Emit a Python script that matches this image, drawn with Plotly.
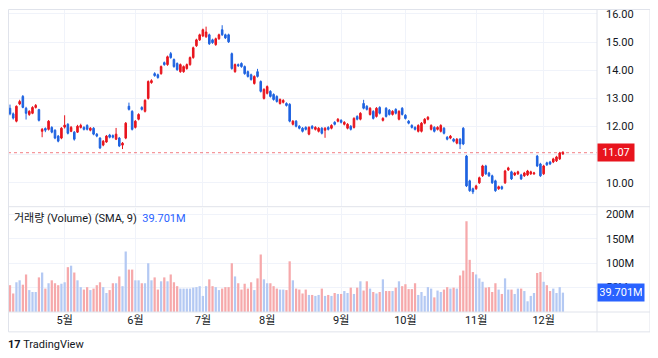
import plotly.graph_objects as go

# ---------------- data ----------------
opens = [12.65,12.45,12.19,12.80,13.07,12.65,12.43,12.47,12.68,12.60,
         11.83,11.93,11.90,11.97,11.87,11.66,11.59,11.98,12.08,11.83,
         11.80,11.80,11.97,11.97,12.04,11.87,11.94,11.73,11.59,11.34,
         11.45,11.70,11.68,11.55,11.59,11.34,11.59,12.72,12.54,11.97,
         12.26,12.68,12.54,13.00,13.56,13.88,13.84,13.88,14.27,14.20,
         14.59,14.38,14.24,13.95,13.95,14.06,14.20,14.45,14.87,15.08,
         15.22,15.19,15.26,15.08,14.91,15.12,15.44,15.26,15.26,14.59,
         13.95,14.20,14.24,14.13,13.95,13.84,13.53,13.95,13.60,13.00,
         13.18,13.25,13.14,13.07,12.82,12.86,12.82,12.79,12.08,12.19,
         12.01,11.94,11.97,11.73,12.01,11.90,11.83,11.94,11.87,11.97,
         11.94,12.15,12.19,12.22,12.08,11.94,12.01,11.97,12.36,12.26,
         12.82,12.72,12.43,12.54,12.36,12.68,12.22,12.65,12.58,12.43,
         12.61,12.26,12.65,12.40,12.19,12.04,11.97,11.83,11.83,12.12,
         12.26,11.90,11.97,11.90,11.83,11.94,11.62,11.59,11.55,11.41,
         11.55,11.94,10.95,10.07,9.79,9.79,10.00,10.25,10.60,10.35,
         10.25,10.07,9.79,9.86,10.00,10.46,10.39,10.28,10.32,10.28,
         10.25,10.28,10.32,10.32,10.95,10.67,10.32,10.71,10.74,10.74,
         10.78,10.85,11.03]
highs = [12.78,12.50,12.75,12.95,13.12,12.70,12.58,12.72,12.80,12.63,
         11.95,11.97,12.23,12.01,11.90,11.70,11.98,12.40,12.12,12.02,
         11.84,12.06,12.10,12.01,12.08,11.98,11.98,11.77,11.62,11.52,
         11.70,11.74,11.72,11.95,11.63,11.45,12.16,12.85,12.58,12.23,
         12.47,12.72,12.97,13.64,13.68,13.93,13.88,14.17,14.31,14.52,
         14.65,14.42,14.28,14.24,14.17,14.24,14.49,14.84,15.12,15.30,
         15.48,15.55,15.30,15.12,15.16,15.30,15.60,15.30,15.30,14.63,
         14.24,14.24,14.28,14.17,13.99,13.88,13.82,14.05,13.64,13.36,
         13.46,13.29,13.18,13.11,13.00,12.97,12.86,12.83,12.23,12.23,
         12.05,11.98,12.01,12.01,12.05,12.01,11.98,11.98,11.98,12.01,
         12.08,12.19,12.30,12.26,12.19,12.12,12.05,12.33,12.40,12.51,
         12.95,12.76,12.69,12.58,12.69,12.72,12.33,12.69,12.62,12.58,
         12.65,12.58,12.69,12.44,12.23,12.08,12.01,12.08,12.16,12.30,
         12.37,12.08,12.01,12.01,12.08,11.98,11.66,11.70,11.59,11.59,
         11.59,11.98,10.99,10.11,9.83,9.93,10.22,10.64,10.64,10.39,
         10.29,10.11,9.90,9.90,10.46,10.57,10.43,10.39,10.43,10.32,
         10.39,10.46,10.43,10.39,10.99,10.71,10.64,10.75,10.78,10.89,
         10.96,11.10,11.13]
lows = [12.40,12.25,12.15,12.76,12.65,12.25,12.38,12.44,12.64,12.18,
        11.62,11.80,11.86,11.76,11.55,11.44,11.55,11.93,11.72,11.80,
        11.50,11.77,11.93,11.86,11.86,11.83,11.69,11.62,11.20,11.30,
        11.42,11.58,11.58,11.52,11.27,11.20,11.55,12.57,11.86,11.93,
        12.22,12.57,12.50,12.96,13.52,13.77,13.70,13.84,14.16,14.16,
        14.41,14.09,13.98,13.91,13.91,14.02,14.16,14.41,14.83,15.04,
        15.18,15.15,14.90,14.94,14.87,15.08,15.22,15.11,14.97,14.02,
        13.91,14.12,14.09,13.84,13.74,13.63,13.49,13.74,13.21,12.96,
        13.14,13.03,12.92,12.85,12.78,12.82,12.71,12.15,12.04,11.97,
        11.90,11.79,11.86,11.69,11.90,11.86,11.79,11.72,11.60,11.86,
        11.90,12.04,12.15,12.11,12.04,11.90,11.86,11.93,12.22,12.22,
        12.61,12.57,12.39,12.25,12.32,12.43,12.18,12.32,12.39,12.39,
        12.43,12.22,12.39,12.25,12.08,11.93,11.86,11.79,11.79,12.08,
        12.22,11.86,11.79,11.86,11.79,11.72,11.51,11.55,11.44,11.37,
        11.20,11.34,9.85,9.68,9.60,9.75,9.96,10.21,10.28,10.21,
        9.96,9.68,9.75,9.75,9.96,10.42,10.10,10.24,10.28,10.10,
        10.21,10.24,10.28,10.28,10.56,10.21,10.28,10.60,10.63,10.70,
        10.74,10.81,10.99]
closes = [12.45,12.30,12.72,12.89,12.68,12.47,12.54,12.68,12.75,12.22,
          11.90,11.87,12.19,11.80,11.59,11.48,11.94,12.05,11.76,11.97,
          11.55,12.01,12.04,11.90,11.90,11.94,11.73,11.66,11.24,11.48,
          11.66,11.62,11.62,11.73,11.31,11.41,12.12,12.61,11.90,12.19,
          12.43,12.61,12.93,13.60,13.63,13.81,13.74,14.13,14.20,14.48,
          14.45,14.13,14.02,14.20,14.13,14.20,14.45,14.80,15.08,15.26,
          15.44,15.36,14.94,14.98,15.12,15.26,15.26,15.15,15.01,14.06,
          14.20,14.16,14.13,13.88,13.78,13.67,13.78,13.78,13.25,13.32,
          13.42,13.07,12.96,12.89,12.96,12.93,12.75,12.19,12.19,12.01,
          11.94,11.83,11.90,11.97,11.94,11.97,11.94,11.76,11.94,11.90,
          12.04,12.08,12.26,12.15,12.15,12.08,11.90,12.29,12.26,12.47,
          12.65,12.61,12.65,12.29,12.65,12.47,12.29,12.36,12.43,12.54,
          12.47,12.54,12.43,12.29,12.12,11.97,11.90,12.04,12.12,12.26,
          12.33,12.04,11.83,11.97,12.04,11.76,11.55,11.66,11.48,11.55,
          11.38,11.38,9.89,9.72,9.68,9.89,10.18,10.60,10.32,10.25,
          10.00,9.72,9.86,9.79,10.42,10.53,10.14,10.35,10.39,10.14,
          10.35,10.42,10.39,10.35,10.60,10.25,10.60,10.64,10.67,10.85,
          10.92,11.06,11.07]
volumes_m = [55,38,61,65,56,77,45,41,41,71,
             81,48,59,65,59,55,58,61,92,95,
             81,65,51,46,51,45,48,55,61,51,
             39,45,59,59,73,53,124,87,87,65,
             65,59,59,100,65,71,46,63,71,63,
             77,61,53,48,48,48,48,50,51,53,
             33,53,67,53,51,45,48,51,51,100,
             73,59,46,58,48,61,45,69,118,67,
             59,59,53,48,46,46,45,104,65,48,
             46,38,46,35,35,33,35,48,33,35,
             33,39,37,37,43,39,50,37,50,63,
             44,63,48,41,38,41,67,43,43,43,
             50,63,53,57,47,47,59,35,41,33,
             51,48,30,44,41,46,51,48,50,48,
             75,85,186,107,82,77,69,62,50,51,
             41,59,46,37,69,46,46,37,48,48,
             43,22,33,39,80,82,62,55,43,48,
             39,51,39.701]
month_tick_pos = [17, 39, 60, 80, 103, 123, 145, 166]
month_labels = ["5월", "6월", "7월", "8월", "9월", "10월", "11월", "12월"]
price_ticks = [10, 11, 12, 13, 14, 15, 16]
price_tick_text = ["10.00", "", "12.00", "13.00", "14.00", "15.00", "16.00"]
volume_ticks = [50, 100, 150, 200]
volume_tick_text = ["50M", "100M", "150M", "200M"]
last_price = 11.07
last_volume = 39.701

# ---------------- style ----------------
RED = "#e8141d"
BLUE = "#1f63e0"
VRED = "#f6a9ab"
VBLUE = "#b4c9f3"
GRID = "#f0f3fa"
FRAME = "#e0e3eb"
TXT = "#131722"
FONT = "Trebuchet MS, Roboto, Noto Sans CJK KR, sans-serif"

# page has an 8px body margin: figure is placed at (8, 8)
PW, PH = 589, 304          # plot area size in pixels


def px(xp):                 # page x -> paper x
    return (xp - 8) / PW


def py(yp):                 # page y -> paper y
    return (312 - yp) / PH


idx = list(range(len(closes)))
vcolors = [VRED if c < o else VBLUE for o, c in zip(opens, closes)]

fig = go.Figure()
fig.add_trace(go.Candlestick(
    x=idx, open=opens, high=highs, low=lows, close=closes,
    increasing=dict(line=dict(color=RED, width=1), fillcolor=RED),
    decreasing=dict(line=dict(color=BLUE, width=1), fillcolor=BLUE),
    whiskerwidth=0, xaxis="x", yaxis="y", showlegend=False, hoverinfo="skip"))
fig.add_trace(go.Bar(
    x=idx, y=volumes_m, marker=dict(color=vcolors, line=dict(width=0)),
    xaxis="x2", yaxis="y2", showlegend=False, hoverinfo="skip"))

xr = [-0.62, 182.6]
fig.update_layout(
    width=650, height=350,
    margin=dict(l=0, r=61, t=0, b=46),
    paper_bgcolor="white", plot_bgcolor="white",
    font=dict(family=FONT, size=11, color=TXT),
    bargap=0.3,
    xaxis=dict(domain=[0, 1], range=xr, anchor="y", tickvals=month_tick_pos,
               showticklabels=False, showgrid=True, gridcolor=GRID,
               zeroline=False, rangeslider=dict(visible=False), ticks=""),
    xaxis2=dict(domain=[0, 1], range=xr, anchor="y2", tickvals=month_tick_pos,
                ticktext=month_labels, showgrid=True, gridcolor=GRID,
                zeroline=False, ticks="", tickfont=dict(size=11, color=TXT)),
    yaxis=dict(domain=[py(205), 1], range=[9.187, 16.141], side="right",
               tickvals=price_ticks, ticktext=price_tick_text,
               showgrid=True, gridcolor=GRID, zeroline=False, ticks="",
               ticklabelstandoff=8, ticklabeloverflow="allow",
               tickfont=dict(size=11, color=TXT)),
    yaxis2=dict(domain=[0, py(207)], range=[0, 214], side="right",
                tickvals=volume_ticks, ticktext=volume_tick_text,
                showgrid=True, gridcolor=GRID, zeroline=False, ticks="",
                ticklabelstandoff=8, ticklabeloverflow="allow",
                tickfont=dict(size=11, color=TXT)),
)

shapes = [
    dict(type="line", xref="paper", yref="y", x0=0, x1=1, y0=last_price, y1=last_price,
         line=dict(color="rgba(232,20,29,0.55)", width=1, dash="dot")),
    dict(type="rect", xref="paper", yref="paper", x0=px(8.5), x1=px(650), y0=py(332), y1=py(7.5),
         line=dict(color=FRAME, width=1)),
    dict(type="line", xref="paper", yref="paper", x0=1, x1=1, y0=py(332), y1=1,
         line=dict(color=FRAME, width=1)),
    dict(type="line", xref="paper", yref="paper", x0=0, x1=px(650), y0=py(206), y1=py(206),
         line=dict(color=FRAME, width=1)),
    dict(type="line", xref="paper", yref="paper", x0=0, x1=px(650), y0=0, y1=0,
         line=dict(color=FRAME, width=1)),
]
fig.update_layout(shapes=shapes)

annotations = [
    dict(xref="paper", yref="y", x=1, y=last_price, xanchor="left", yanchor="middle",
         text=f"{last_price:.2f}", showarrow=False, bgcolor=RED, borderpad=2,
         font=dict(color="white", size=11, family=FONT), width=32),
    dict(xref="paper", yref="y2", x=1, y=last_volume, xanchor="left", yanchor="middle",
         text=f"{last_volume:.3f}M", showarrow=False, bgcolor="#2962ff", borderpad=2,
         font=dict(color="white", size=11, family=FONT), width=42),
    dict(xref="paper", yref="paper", x=px(12), y=py(218), xanchor="left",
         yanchor="middle", showarrow=False,
         text=f'<span style="color:{TXT}">거래량 (Volume) (SMA, 9)</span>  '
              f'<span style="color:#2962ff">{last_volume:.3f}M</span>',
         font=dict(size=11, family=FONT)),
    dict(xref="paper", yref="paper", x=px(6), y=py(345), xanchor="left",
         yanchor="middle", showarrow=False,
         text='<b>17</b> TradingView', font=dict(size=11, family=FONT, color=TXT)),
]
fig.update_layout(annotations=annotations)

fig.write_html("out.html")
